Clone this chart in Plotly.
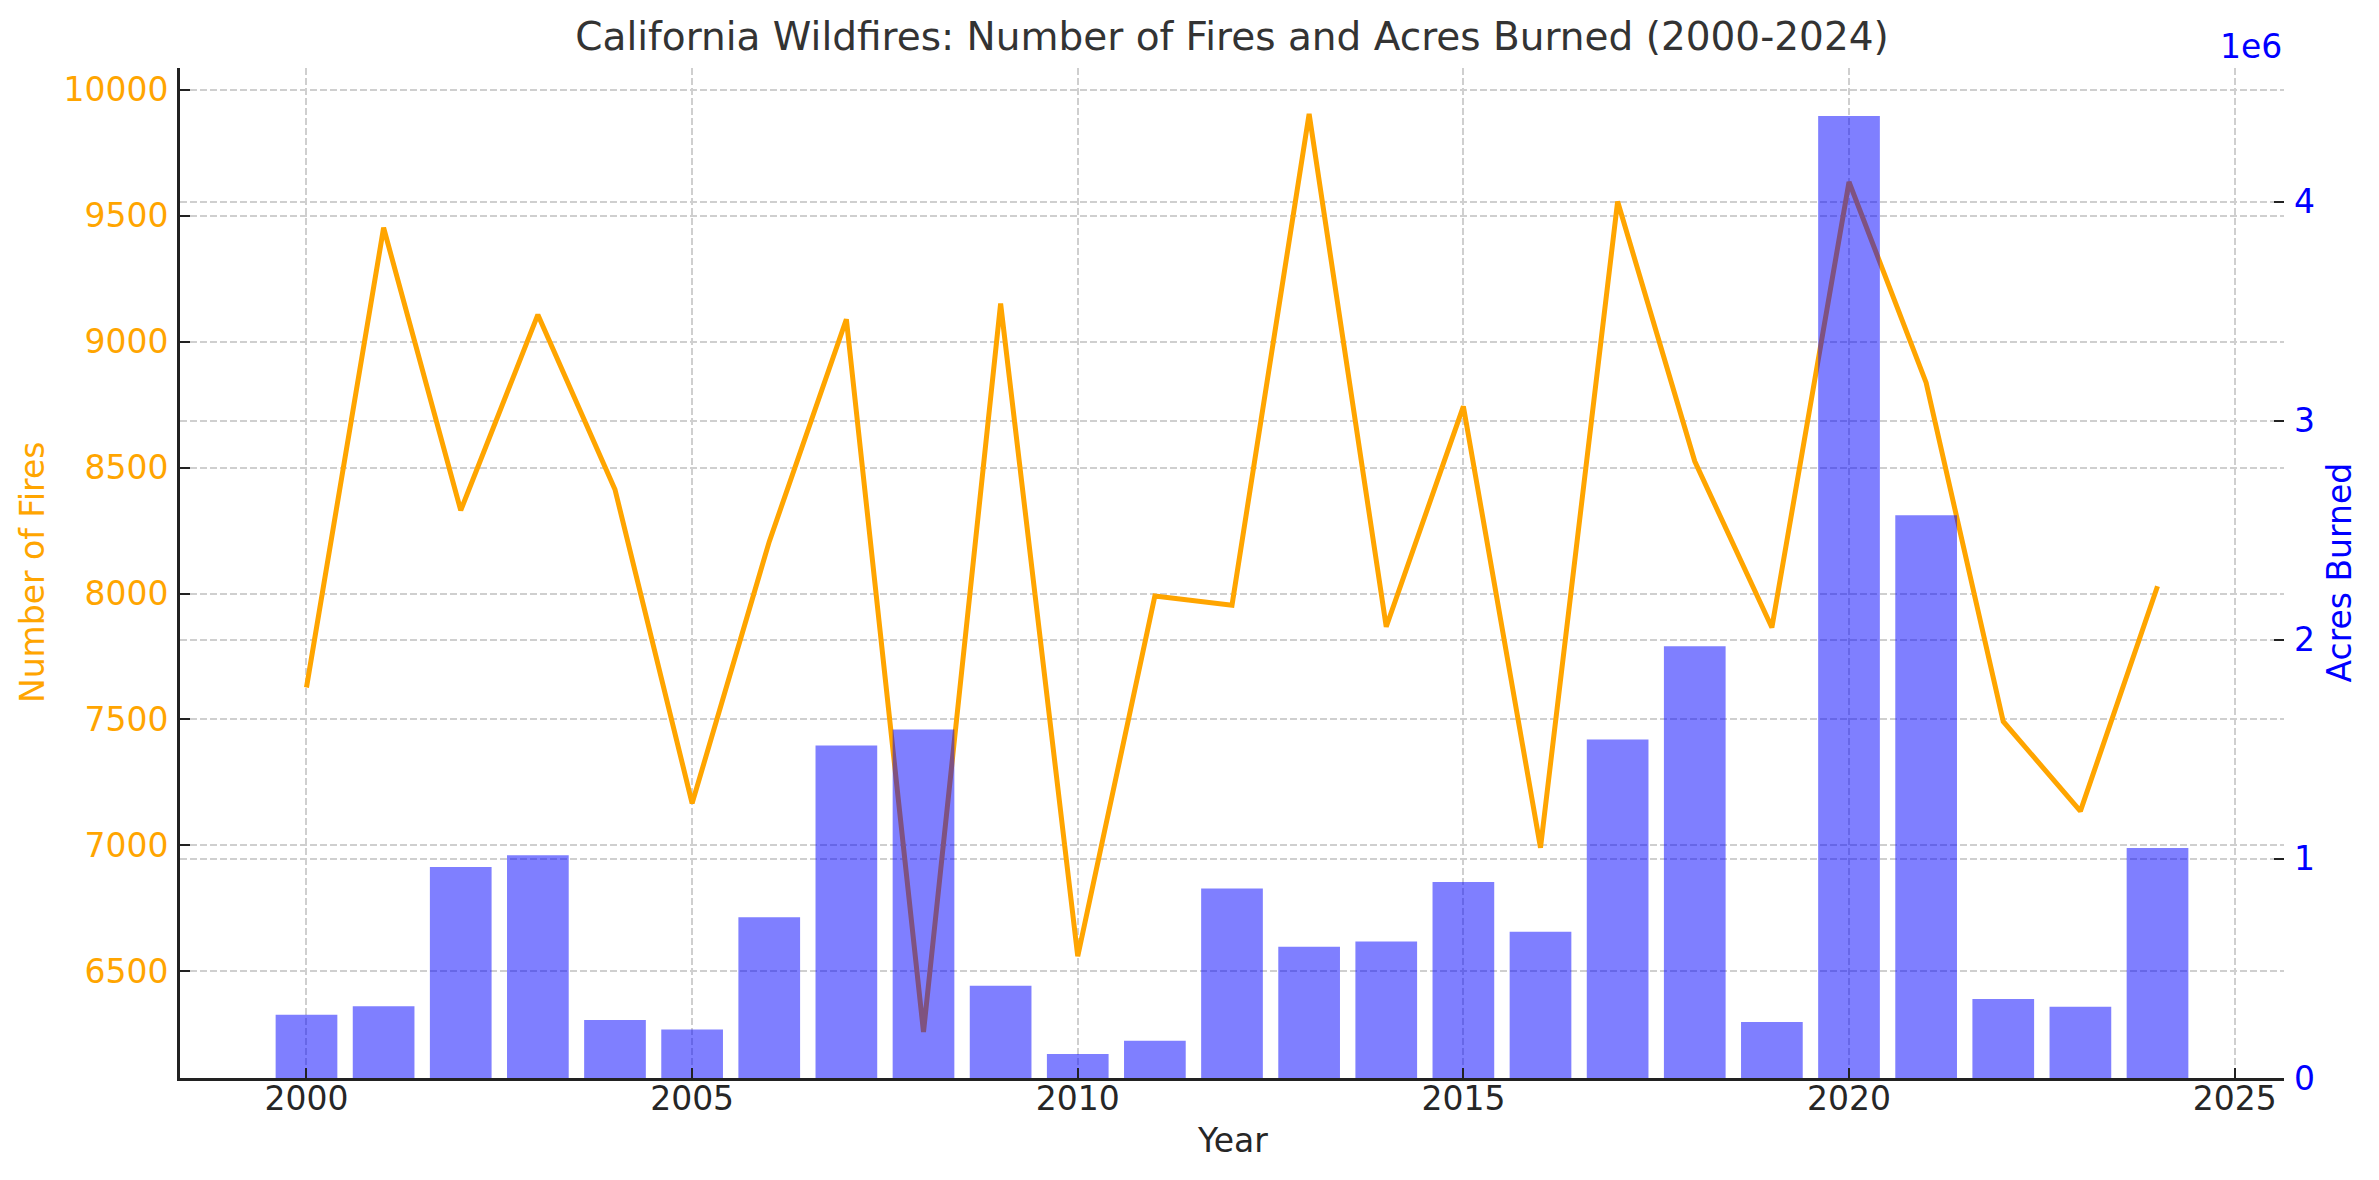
import plotly.graph_objects as go

years = list(range(2000, 2025))
num_fires = [7627, 9452, 8330, 9107, 8413, 7167, 8206, 9089, 6259, 9151,
             6560, 7990, 7954, 9904, 7868, 8743, 6991, 9556, 8525, 7865,
             9634, 8837, 7492, 7136, 8029]
acres_burned = [289000, 328000, 963000, 1017000, 265000, 221000, 734000, 1518000, 1590000, 421000,
                110000, 170000, 865000, 599000, 623000, 895000, 668000, 1545000, 1971000, 256000,
                4390000, 2568000, 361000, 325000, 1050000]
acres_tickvals = [0, 1000000, 2000000, 3000000, 4000000]
acres_ticktext = ["0", "1", "2", "3", "4"]

FONT = "DejaVu Sans"
ORANGE = "#FFA500"
BLUE = "#0000FF"
GRID = "#cfcfcf"
AX = "#222222"
TXT = "#262626"

bar_w = 0.8
xmin = years[0] - bar_w / 2
xmax = years[-1] + bar_w / 2
xr = xmax - xmin
fmin, fmax = min(num_fires), max(num_fires)
fr = fmax - fmin
amax = max(acres_burned)

fig = go.Figure()
fig.add_trace(go.Scatter(x=years, y=num_fires, mode="lines",
                         line=dict(color=ORANGE, width=5), name="Number of Fires",
                         yaxis="y"))
fig.add_trace(go.Bar(x=years, y=acres_burned, width=bar_w,
                     marker=dict(color="rgba(0,0,255,0.5)", line=dict(width=0)),
                     name="Acres Burned", yaxis="y2"))

fig.update_layout(
    width=2379, height=1180,
    margin=dict(l=180, r=95, t=68, b=102, pad=0, autoexpand=False),
    paper_bgcolor="white", plot_bgcolor="white",
    showlegend=False,
    font=dict(family=FONT, size=33, color=AX),
    title=dict(text="California Wildfires: Number of Fires and Acres Burned (2000-2024)",
               x=0.5, xref="paper", xanchor="center",
               y=1 - 36 / 1180, yref="container", yanchor="middle",
               font=dict(family=FONT, size=39, color="#333333")),
    xaxis=dict(range=[xmin - 0.05 * xr, xmax + 0.05 * xr], automargin=False,
               tick0=2000, dtick=5, tickmode="linear",
               ticks="inside", ticklen=10, tickwidth=2, tickcolor=AX,
               showline=True, linecolor=AX, linewidth=3, mirror=False,
               showgrid=True, gridcolor=GRID, gridwidth=1.5, griddash="7px,3px",
               zeroline=False, tickfont=dict(size=33, color=TXT),
               ticklabelstandoff=-11),
    yaxis=dict(range=[fmin - 0.05 * fr, fmax + 0.05 * fr], automargin=False,
               tick0=0, dtick=500, tickmode="linear", tickformat="d",
               ticks="inside", ticklen=10, tickwidth=2, tickcolor=AX,
               showline=True, linecolor=AX, linewidth=3, mirror=False,
               showgrid=True, gridcolor=GRID, gridwidth=1.5, griddash="7px,3px",
               zeroline=False, tickfont=dict(size=33, color=ORANGE),
               ticklabelstandoff=2),
    yaxis2=dict(range=[0, amax * 1.05], overlaying="y", side="right", automargin=False,
                tickmode="array", tickvals=acres_tickvals, ticktext=acres_ticktext,
                ticks="inside", ticklen=10, tickwidth=2, tickcolor=AX,
                showline=False, showgrid=True, gridcolor=GRID, gridwidth=1.5,
                griddash="7px,3px", zeroline=False,
                tickfont=dict(size=33, color=BLUE),
                ticklabelstandoff=9),
    annotations=[
        dict(text="1e6", x=1, xref="paper", xanchor="right",
             y=1.0, yref="paper", yanchor="bottom", yshift=0,
             showarrow=False, font=dict(family=FONT, size=33, color=BLUE)),
        dict(text="Year", x=0.5, xref="paper", xanchor="center",
             y=0, yref="paper", yanchor="middle", yshift=-62.5,
             showarrow=False, font=dict(family=FONT, size=33, color=TXT)),
        dict(text="Number of Fires", x=0, xref="paper", xanchor="center", xshift=-148,
             y=0.5, yref="paper", yanchor="middle", textangle=-90,
             showarrow=False, font=dict(family=FONT, size=33, color=ORANGE)),
        dict(text="Acres Burned", x=1, xref="paper", xanchor="center", xshift=54.5,
             y=0.5, yref="paper", yanchor="middle", textangle=-90,
             showarrow=False, font=dict(family=FONT, size=33, color=BLUE)),
    ],
)

fig.write_html("out.html")
